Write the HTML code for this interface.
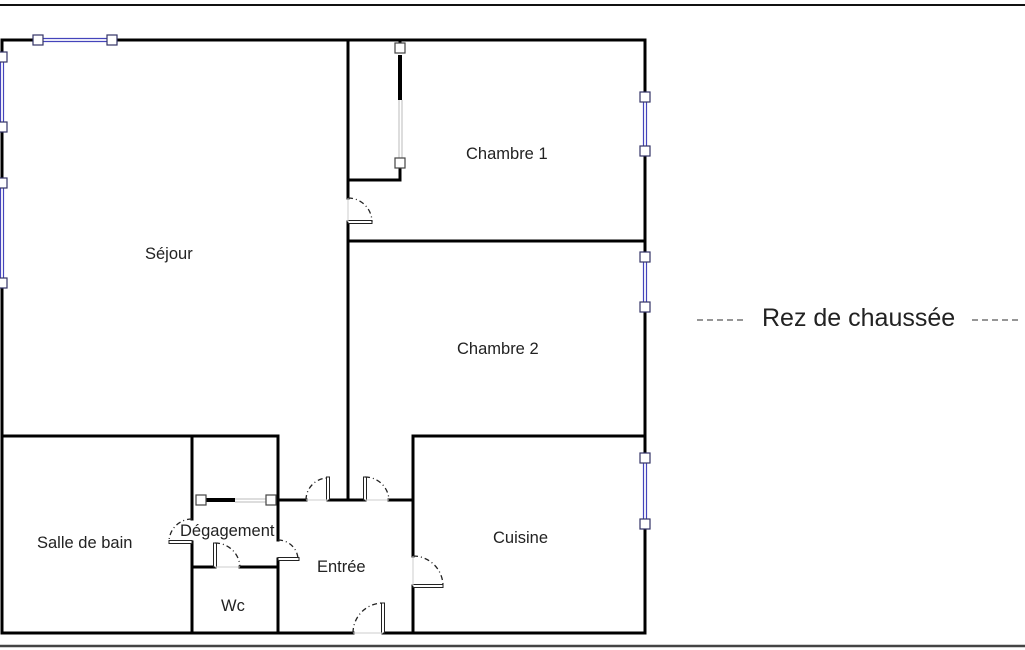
<!DOCTYPE html>
<html><head><meta charset="utf-8"><style>
html,body{margin:0;padding:0;background:#fff;}
svg{display:block;}
text{font-family:"Liberation Sans",sans-serif;fill:#222;}
</style></head><body>
<svg width="1025" height="650" viewBox="0 0 1025 650" xmlns="http://www.w3.org/2000/svg">
<line x1="0" y1="5" x2="1025" y2="5" stroke="#111" stroke-width="2"/>
<line x1="0" y1="646" x2="1025" y2="646" stroke="#444" stroke-width="2.5"/>
<g stroke="#000" stroke-width="3" fill="none" stroke-linecap="square">
<polyline points="2,57 2,40 38,40"/>
<polyline points="112,40 645,40 645,97"/>
<line x1="645" y1="151" x2="645" y2="257"/>
<line x1="645" y1="307" x2="645" y2="458"/>
<polyline points="645,524 645,633 383,633"/>
<polyline points="353,633 2,633 2,283"/>
<line x1="2" y1="127" x2="2" y2="183"/>
<line x1="348" y1="40" x2="348" y2="198"/>
<line x1="348" y1="222" x2="348" y2="500"/>
<polyline points="348,180 400,180 400,163"/>
<line x1="400" y1="40" x2="400" y2="48"/>
<line x1="348" y1="241" x2="645" y2="241"/>
<polyline points="413,633 413,586"/>
<polyline points="413,556 413,436 645,436"/>
<line x1="2" y1="436" x2="278" y2="436"/>
<line x1="192" y1="436" x2="192" y2="519"/>
<line x1="192" y1="542" x2="192" y2="633"/>
<line x1="278" y1="436" x2="278" y2="540"/>
<line x1="278" y1="559" x2="278" y2="633"/>
<line x1="193" y1="567" x2="215" y2="567"/>
<line x1="240" y1="567" x2="278" y2="567"/>
<line x1="278" y1="500" x2="306" y2="500"/>
<line x1="328" y1="500" x2="365" y2="500"/>
<line x1="389" y1="500" x2="413" y2="500"/>
</g>
<line x1="400" y1="55" x2="400" y2="100" stroke="#000" stroke-width="4"/>
<line x1="399" y1="100" x2="399" y2="158" stroke="#bbb" stroke-width="1"/>
<line x1="402" y1="100" x2="402" y2="158" stroke="#bbb" stroke-width="1"/>
<rect x="395" y="43" width="10" height="10" fill="#fff" stroke="#444" stroke-width="1.2"/>
<rect x="395" y="158" width="10" height="10" fill="#fff" stroke="#444" stroke-width="1.2"/>
<line x1="205" y1="500" x2="235" y2="500" stroke="#000" stroke-width="4"/>
<line x1="235" y1="499" x2="266" y2="499" stroke="#bbb" stroke-width="1"/>
<line x1="235" y1="502" x2="266" y2="502" stroke="#bbb" stroke-width="1"/>
<rect x="196" y="495" width="10" height="10" fill="#fff" stroke="#444" stroke-width="1.2"/>
<rect x="266" y="495" width="10" height="10" fill="#fff" stroke="#444" stroke-width="1.2"/>
<g stroke="#4444bb" stroke-width="1.2" fill="none">
<line x1="38" y1="38.5" x2="112" y2="38.5"/><line x1="38" y1="41.5" x2="112" y2="41.5"/>
<line x1="0.5" y1="57" x2="0.5" y2="127"/><line x1="3.5" y1="57" x2="3.5" y2="127"/>
<line x1="0.5" y1="183" x2="0.5" y2="283"/><line x1="3.5" y1="183" x2="3.5" y2="283"/>
<line x1="643.5" y1="97" x2="643.5" y2="151"/><line x1="646.5" y1="97" x2="646.5" y2="151"/>
<line x1="643.5" y1="257" x2="643.5" y2="307"/><line x1="646.5" y1="257" x2="646.5" y2="307"/>
<line x1="643.5" y1="458" x2="643.5" y2="524"/><line x1="646.5" y1="458" x2="646.5" y2="524"/>
</g>
<g fill="#fff" stroke="#333366" stroke-width="1.2">
<rect x="33" y="35" width="10" height="10"/><rect x="107" y="35" width="10" height="10"/>
<rect x="-3" y="52" width="10" height="10"/><rect x="-3" y="122" width="10" height="10"/>
<rect x="-3" y="178" width="10" height="10"/><rect x="-3" y="278" width="10" height="10"/>
<rect x="640" y="92" width="10" height="10"/><rect x="640" y="146" width="10" height="10"/>
<rect x="640" y="252" width="10" height="10"/><rect x="640" y="302" width="10" height="10"/>
<rect x="640" y="453" width="10" height="10"/><rect x="640" y="519" width="10" height="10"/>
</g>
<g fill="#fff" stroke="#222" stroke-width="1">
<rect x="348" y="220.5" width="24" height="3"/>
<rect x="326.5" y="477" width="3" height="23"/>
<rect x="363.5" y="477" width="3" height="23"/>
<rect x="278" y="557.5" width="21" height="3"/>
<rect x="413" y="584.5" width="30" height="3"/>
<rect x="381.5" y="603" width="3" height="30"/>
<rect x="213.5" y="543" width="3" height="24"/>
<rect x="169" y="540.5" width="23" height="3"/>
</g>
<g fill="none" stroke="#222" stroke-width="1.3" stroke-dasharray="5,3,1,3">
<path d="M348,198 A24,24 0 0 1 372,222"/>
<path d="M306,500 A22,22 0 0 1 328,478"/>
<path d="M365,477 A24,24 0 0 1 389,500"/>
<path d="M278,540 A20,20 0 0 1 298,559"/>
<path d="M413,556 A30,30 0 0 1 443,586"/>
<path d="M353,633 A30,30 0 0 1 383,603"/>
<path d="M215,543 A25,25 0 0 1 240,567"/>
<path d="M192,519 A23,23 0 0 0 169,542"/>
</g>
<g stroke="#ccc" stroke-width="1">
<line x1="348" y1="198" x2="348" y2="222"/>
<line x1="306" y1="500" x2="328" y2="500"/>
<line x1="365" y1="500" x2="389" y2="500"/>
<line x1="413" y1="556" x2="413" y2="586"/>
<line x1="353" y1="633" x2="383" y2="633"/>
<line x1="215" y1="567" x2="240" y2="567"/>
</g>
<g font-size="16.5">
<text x="145" y="259">Séjour</text>
<text x="466" y="159">Chambre 1</text>
<text x="457" y="354">Chambre 2</text>
<text x="493" y="543">Cuisine</text>
<text x="37" y="548">Salle de bain</text>
<text x="180" y="536">Dégagement</text>
<text x="317" y="572">Entrée</text>
<text x="221" y="611">Wc</text>
</g>
<line x1="697" y1="320" x2="745" y2="320" stroke="#888" stroke-width="1.8" stroke-dasharray="6,4"/>
<line x1="972" y1="320" x2="1022" y2="320" stroke="#888" stroke-width="1.8" stroke-dasharray="6,4"/>
<text x="762" y="326" font-size="25">Rez de chaussée</text>
</svg>
</body></html>
